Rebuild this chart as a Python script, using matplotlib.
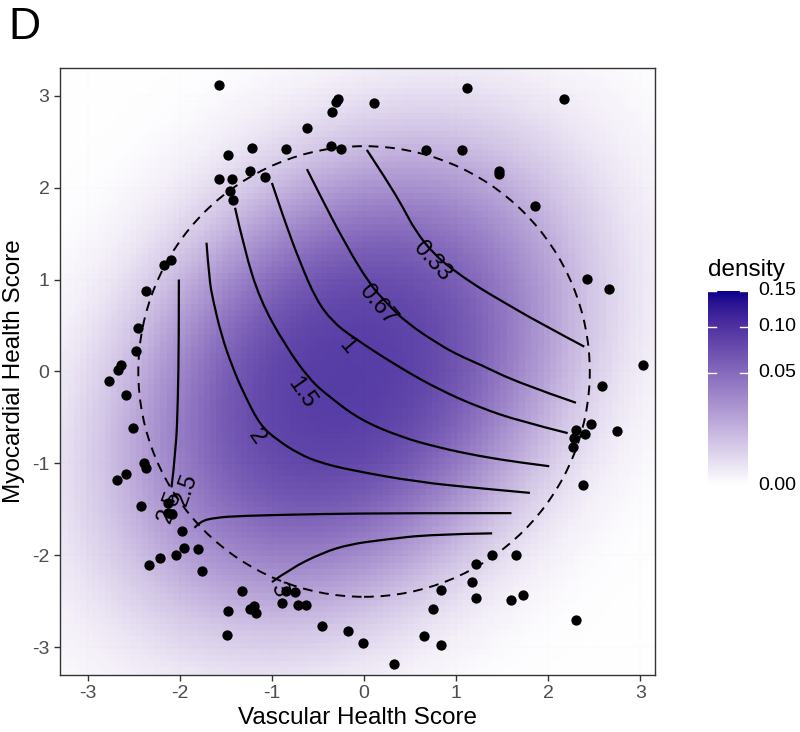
import numpy as np
import matplotlib
matplotlib.use("Agg")
import matplotlib.pyplot as plt
from matplotlib.colors import ListedColormap
from matplotlib.patches import Circle, PathPatch
from matplotlib.path import Path

plt.rcParams['font.family'] = ['Liberation Sans', 'DejaVu Sans']

# ---------------- data ----------------
pts_x = [-1.57, -0.30, -0.28, -0.35, 0.11, -0.62, 1.12, 2.17, -1.48, -1.22, -0.85, -0.36, -0.25,
         -1.24, -1.57, -1.43, -1.45, -1.42, -1.08, 0.67, 1.06, 1.46, 1.47, 1.86, 2.42, 2.66, 3.03,
         2.58, -2.17, -2.09, -2.37, -2.45, -2.47, -2.67, -2.64, -2.77, -2.58, -2.51, -2.39, -2.37,
         -2.58, -2.68, -2.42, -2.13, -2.13, -2.08, -1.98, -1.95, -1.80, -1.76, -2.04, -2.22, -2.33,
         -1.33, -1.48, -1.24, -1.19, -1.17, -1.49, -0.85, -0.75, -0.89, -0.72, -0.63, -0.46, -0.17,
         -0.01, 0.32, 0.65, 0.83, 0.75, 0.83, 1.17, 1.22, 1.22, 1.39, 1.65, 1.59, 1.73, 2.30, 2.38,
         2.27, 2.46, 2.30, 2.40, 2.28, 2.74]
pts_y = [3.11, 2.93, 2.96, 2.82, 2.92, 2.65, 3.08, 2.96, 2.35, 2.43, 2.42, 2.45, 2.42,
         2.18, 2.09, 2.09, 1.96, 1.87, 2.11, 2.41, 2.41, 2.18, 2.15, 1.80, 1.01, 0.90, 0.07,
         -0.16, 1.16, 1.21, 0.88, 0.47, 0.22, 0.02, 0.07, -0.10, -0.26, -0.61, -0.99, -1.05,
         -1.11, -1.18, -1.46, -1.43, -1.54, -1.55, -1.73, -1.92, -1.93, -2.17, -2.00, -2.03, -2.10,
         -2.39, -2.60, -2.58, -2.55, -2.63, -2.86, -2.39, -2.40, -2.52, -2.54, -2.54, -2.77, -2.82,
         -2.95, -3.18, -2.88, -2.97, -2.58, -2.38, -2.29, -2.46, -2.09, -2.00, -2.00, -2.48, -2.43,
         -2.70, -1.23, -0.82, -0.57, -0.64, -0.68, -0.72, -0.65]

# contour lines
c033_x = [0.03, 0.24, 0.42, 0.55, 0.76, 1.00, 1.25, 1.47, 1.90, 2.39]
c033_y = [2.41, 2.09, 1.79, 1.54, 1.27, 1.08, 0.91, 0.78, 0.53, 0.27]
c067_x = [-0.62, -0.48, -0.21, 0.06, 0.24, 0.46, 0.82, 1.04, 1.25, 1.69, 2.30]
c067_y = [2.20, 1.92, 1.40, 0.95, 0.75, 0.53, 0.29, 0.17, 0.08, -0.13, -0.34]
c1_x = [-1.00, -0.86, -0.70, -0.52, -0.34, -0.12, 0.39, 0.82, 1.25, 1.69, 2.21]
c1_y = [2.05, 1.63, 1.20, 0.78, 0.54, 0.37, 0.04, -0.20, -0.39, -0.54, -0.67]
c15_x = [-1.40, -1.30, -1.13, -0.86, -0.59, -0.37, -0.05, 0.39, 0.82, 1.25, 1.69, 2.01]
c15_y = [1.78, 1.33, 0.78, 0.29, -0.09, -0.28, -0.52, -0.71, -0.83, -0.92, -0.99, -1.03]
c2_x = [-1.71, -1.68, -1.64, -1.55, -1.43, -1.30, -1.13, -0.95, -0.70, -0.48, -0.16, 0.57, 1.25, 1.80]
c2_y = [1.40, 1.00, 0.78, 0.40, 0.05, -0.25, -0.58, -0.74, -0.90, -0.99, -1.07, -1.20, -1.27, -1.32]
c25a_x = [-2.01, -2.01, -2.02, -2.04, -2.09]
c25a_y = [1.00, 0.35, -0.30, -0.85, -1.26]
c25b_x = [-1.84, -1.78, -1.62, -1.35, -0.52, 0.39, 1.60]
c25b_y = [-1.70, -1.63, -1.59, -1.57, -1.55, -1.54, -1.54]
c3_x = [-1.00, -0.81, -0.45, -0.16, 0.20, 0.74, 1.39]
c3_y = [-2.29, -2.15, -1.97, -1.88, -1.83, -1.77, -1.76]

label_text = ["0.33", "0.67", "1", "1.5", "2", "2.5", "2.5", "3"]
label_x = [0.74, 0.15, -0.18, -0.68, -1.17, -1.93, -2.11, -0.93]
label_y = [1.20, 0.73, 0.28, -0.23, -0.71, -1.28, -1.47, -2.37]
label_rot = [-48, -50, -50, -55, -55, 70, 70, -60]

# density field parameters
dens_center = (-0.2, -0.1)
dens_scale = (1.5, 1.55)
dens_rho = 0.3
dens_power = 2.8
dens_peak = 0.105
dens_max = 0.15

circle_center = (0.0, 0.0)
circle_radius = 2.45

x_ticks = [-3, -2, -1, 0, 1, 2, 3]
y_ticks = [-3, -2, -1, 0, 1, 2, 3]
legend_ticks = [0.00, 0.05, 0.10, 0.15]

# ---------------- colormap: white -> darkblue interpolated in Lab ----------------
def srgb_to_lab(rgb):
    rgb = np.asarray(rgb, float)
    lin = np.where(rgb <= 0.04045, rgb / 12.92, ((rgb + 0.055) / 1.055) ** 2.4)
    M = np.array([[0.4124, 0.3576, 0.1805], [0.2126, 0.7152, 0.0722], [0.0193, 0.1192, 0.9505]])
    xyz = M @ lin
    wp = np.array([0.95047, 1.0, 1.08883])
    t = xyz / wp
    f = np.where(t > 0.008856, np.cbrt(t), 7.787 * t + 16 / 116)
    return np.array([116 * f[1] - 16, 500 * (f[0] - f[1]), 200 * (f[1] - f[2])])

def lab_to_srgb(lab):
    L, a, b = lab
    fy = (L + 16) / 116
    fx = fy + a / 500
    fz = fy - b / 200
    f = np.array([fx, fy, fz])
    t = np.where(f ** 3 > 0.008856, f ** 3, (f - 16 / 116) / 7.787)
    xyz = t * np.array([0.95047, 1.0, 1.08883])[:, None]
    Minv = np.array([[3.2406, -1.5372, -0.4986], [-0.9689, 1.8758, 0.0415], [0.0557, -0.2040, 1.0570]])
    lin = np.clip(Minv @ xyz, 0, 1)
    rgb = np.where(lin <= 0.0031308, 12.92 * lin, 1.055 * lin ** (1 / 2.4) - 0.055)
    return np.clip(rgb, 0, 1)

low = srgb_to_lab([1, 1, 1])
high = srgb_to_lab([0, 0, 139 / 255])
tt = np.linspace(0, 1, 256)
labs = low[:, None] * (1 - tt) + high[:, None] * tt
cmap = ListedColormap(lab_to_srgb(labs).T)


def smooth_path(xs, ys):
    pts = np.column_stack([xs, ys])
    verts = [pts[0]]
    codes = [Path.MOVETO]
    for i in range(1, len(pts) - 1):
        mid = (pts[i] + pts[i + 1]) / 2
        if i == len(pts) - 2:
            mid = pts[i + 1]
        verts += [pts[i], mid]
        codes += [Path.CURVE3, Path.CURVE3]
    if len(pts) == 2:
        verts.append(pts[1])
        codes.append(Path.LINETO)
    return Path(verts, codes)


# ---------------- figure ----------------
fig = plt.figure(figsize=(8, 7.32), dpi=100)
ax = fig.add_axes([0.075, 0.0779, 0.744, 0.8292])
xlim = (-3.30, 3.16)
ylim = (-3.30, 3.30)

for v in np.arange(-3, 3.01, 1):
    ax.axvline(v, color='#EBEBEB', lw=1.1, zorder=0)
    ax.axhline(v, color='#EBEBEB', lw=1.1, zorder=0)
for v in np.arange(-3.5, 3.6, 1):
    ax.axvline(v, color='#F2F2F2', lw=0.6, zorder=0)
    ax.axhline(v, color='#F2F2F2', lw=0.6, zorder=0)

# density raster
n = 100
gx = np.linspace(-3.35, 3.35, n)
gy = np.linspace(-3.35, 3.35, n)
GX, GY = np.meshgrid(gx, gy)
dx = (GX - dens_center[0]) / dens_scale[0]
dy = (GY - dens_center[1]) / dens_scale[1]
q = (dx ** 2 - 2 * dens_rho * dx * dy + dy ** 2) / (1 - dens_rho ** 2)
dens = dens_peak * np.exp(-0.5 * q ** (dens_power / 2))
frac = np.sqrt(np.clip(dens / dens_max, 0, 1))
ax.imshow(frac, origin='lower', extent=(-3.35, 3.35, -3.35, 3.35), cmap=cmap, vmin=0, vmax=1,
          interpolation='nearest', alpha=0.92, zorder=1, aspect='auto')

# contours
for cx, cy in [(c033_x, c033_y), (c067_x, c067_y), (c1_x, c1_y), (c15_x, c15_y), (c2_x, c2_y),
               (c25a_x, c25a_y), (c25b_x, c25b_y), (c3_x, c3_y)]:
    ax.add_patch(PathPatch(smooth_path(cx, cy), fill=False, edgecolor='black', lw=1.6, zorder=3))
for t, lx, ly, r in zip(label_text, label_x, label_y, label_rot):
    ax.text(lx, ly, t, rotation=r, ha='center', va='center', fontsize=17, color='black',
            rotation_mode='anchor', zorder=3)

ax.add_patch(Circle(circle_center, circle_radius, fill=False, edgecolor='black', lw=1.4,
                    linestyle=(0, (5, 3.5)), zorder=3))

ax.scatter(pts_x, pts_y, s=55, color='black', zorder=4, linewidths=0)

ax.set_xlim(*xlim)
ax.set_ylim(*ylim)
ax.set_xticks(x_ticks)
ax.set_yticks(y_ticks)
ax.set_xticklabels([str(v) for v in x_ticks])
ax.set_yticklabels([str(v) for v in y_ticks])
ax.tick_params(axis='both', length=4.5, width=1.0, color='#333333', labelsize=14,
               labelcolor='#4D4D4D', pad=3)
for s in ax.spines.values():
    s.set_color('#333333')
    s.set_linewidth(1.0)
ax.set_xlabel('Vascular Health Score', fontsize=17.5, labelpad=3)
ax.set_ylabel('Myocardial Health Score', fontsize=17.5, labelpad=5)

# legend colorbar
cax = fig.add_axes([708 / 800, 1 - 485 / 732, 40 / 800, 194 / 732])
grad = np.linspace(0, 1, 256)[:, None]
cax.imshow(grad, origin='lower', extent=(0, 1, 0, 1), cmap=cmap, vmin=0, vmax=1, aspect='auto')
cax.set_xlim(0, 1)
cax.set_ylim(0, 1)
cax.axis('off')
for v in legend_ticks:
    p = np.sqrt(v / dens_max)
    cax.plot([0, 0.2], [p, p], color='white', lw=1.0)
    cax.plot([0.8, 1.0], [p, p], color='white', lw=1.0)
    cax.text(1.25, p, f"{v:.2f}", ha='left', va='center', fontsize=14, color='black',
             clip_on=False)
fig.text(708 / 800, 1 - 281 / 732, 'density', fontsize=17.5, ha='left', va='bottom')

fig.text(0.011, 0.99, 'D', fontsize=32, ha='left', va='top')

fig.savefig('out.png', dpi=100)
